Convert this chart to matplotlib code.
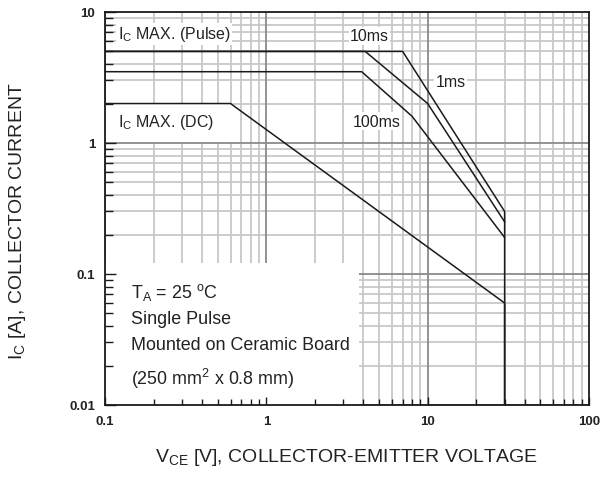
import matplotlib
matplotlib.use("Agg")
import matplotlib.pyplot as plt
import matplotlib.ticker as mticker
from matplotlib.patches import Rectangle

plt.rcParams['font.family'] = ['Liberation Sans', 'DejaVu Sans']
plt.rcParams['mathtext.fontset'] = 'custom'
plt.rcParams['mathtext.rm'] = 'Liberation Sans'

# safe operating area curves
dc_v = [0.1, 0.6, 30, 30]
dc_i = [2.0, 2.0, 0.06, 0.01]
ms100_v = [0.1, 3.9, 8, 30]
ms100_i = [3.5, 3.5, 1.6, 0.19]
ms10_v = [0.1, 4.1, 10, 30]
ms10_i = [5.0, 5.0, 2.0, 0.25]
ms1_v = [0.1, 7, 30, 30]
ms1_i = [5.0, 5.0, 0.3, 0.01]

x_ticks = [0.1, 1, 10, 100]
x_labels = ['0.1', '1', '10', '100']
y_ticks = [0.01, 0.1, 1, 10]
y_labels = ['0.01', '0.1', '1', '10']

fig = plt.figure(figsize=(6.01, 4.81), dpi=100)
ax = fig.add_axes([0.1747, 0.156, 0.8053, 0.817])
ax.set_xscale('log')
ax.set_yscale('log')
ax.set_xlim(0.1, 100)
ax.set_ylim(0.01, 10)

# log grid drawn by hand so the white label boxes can hide it but not the ticks
for d in range(-1, 2):
    for k in range(1, 10):
        v = k * 10.0 ** d
        if k == 1:
            ax.axvline(v, color='#8a8a8a', lw=1.3, zorder=0.5)
        else:
            ax.axvline(v, color='#c8c8c8', lw=1.3, zorder=0.4)
for d in range(-2, 1):
    for k in range(1, 10):
        v = k * 10.0 ** d
        if k == 1:
            ax.axhline(v, color='#8a8a8a', lw=1.3, zorder=0.5)
        else:
            ax.axhline(v, color='#c8c8c8', lw=1.3, zorder=0.4)

# white backgrounds behind the notes
ax.add_patch(Rectangle((0, 0), 0.525, 0.361, transform=ax.transAxes,
                       fc='white', ec='none', zorder=1))
ax.add_patch(Rectangle((0, 0.669), 0.262, 0.097, transform=ax.transAxes,
                       fc='white', ec='none', zorder=1))

for v, i in [(dc_v, dc_i), (ms100_v, ms100_i), (ms10_v, ms10_i), (ms1_v, ms1_i)]:
    ax.plot(v, i, color='#1a1a1a', lw=1.1, zorder=3)

lab = dict(fontsize=11.5, color='#222222', zorder=4,
           bbox=dict(fc='white', ec='none', pad=1))
ax.text(4.36, 6.56, '10ms', ha='center', va='center', **lab)
ax.text(13.9, 2.97, '1ms', ha='center', va='center', **lab)
ax.text(4.82, 1.47, '100ms', ha='center', va='center', **lab)
ax.text(0.12, 6.8, r'I$_\mathregular{C}$ MAX. (Pulse)', ha='left', va='center', **lab)
ax.text(0.12, 1.45, r'I$_\mathregular{C}$ MAX. (DC)', ha='left', va='center', **lab)

notes = [r'T$_\mathregular{A}$ = 25 $^\mathregular{o}$C', 'Single Pulse',
         'Mounted on Ceramic Board', r'(250 mm$^\mathregular{2}$ x 0.8 mm)']
for txt, yf in zip(notes, [0.288, 0.219, 0.153, 0.069]):
    ax.text(0.054, yf, txt, transform=ax.transAxes, ha='left', va='center',
            fontsize=12.9, color='#222222', zorder=4)

ax.xaxis.set_major_locator(mticker.FixedLocator(x_ticks))
ax.xaxis.set_major_formatter(mticker.FixedFormatter(x_labels))
ax.yaxis.set_major_locator(mticker.FixedLocator(y_ticks))
ax.yaxis.set_major_formatter(mticker.FixedFormatter(y_labels))
ax.xaxis.set_minor_formatter(mticker.NullFormatter())
ax.yaxis.set_minor_formatter(mticker.NullFormatter())
ax.tick_params(which='both', direction='in', color='#1a1a1a', width=1)
ax.tick_params(axis='x', which='major', length=6, pad=7)
ax.tick_params(axis='x', which='minor', length=4)
ax.tick_params(axis='y', which='major', length=8, pad=7)
ax.tick_params(axis='y', which='minor', length=6)
for lbl in ax.get_xticklabels() + ax.get_yticklabels():
    lbl.set_fontweight('bold')
    lbl.set_fontsize(9.5)
    lbl.set_color('#222222')

for s in ax.spines.values():
    s.set_linewidth(1.3)
    s.set_color('#1a1a1a')
    s.set_zorder(5)

ax.set_xlabel(r'V$_\mathregular{CE}$ [V], COLLECTOR-EMITTER VOLTAGE', fontsize=14, color='#222222')
ax.set_ylabel(r'I$_\mathregular{C}$ [A], COLLECTOR CURRENT', fontsize=14, color='#222222')
ax.xaxis.set_label_coords(0.498, -0.105)
ax.yaxis.set_label_coords(-0.16, 0.47)

fig.savefig('out.png', dpi=100)
